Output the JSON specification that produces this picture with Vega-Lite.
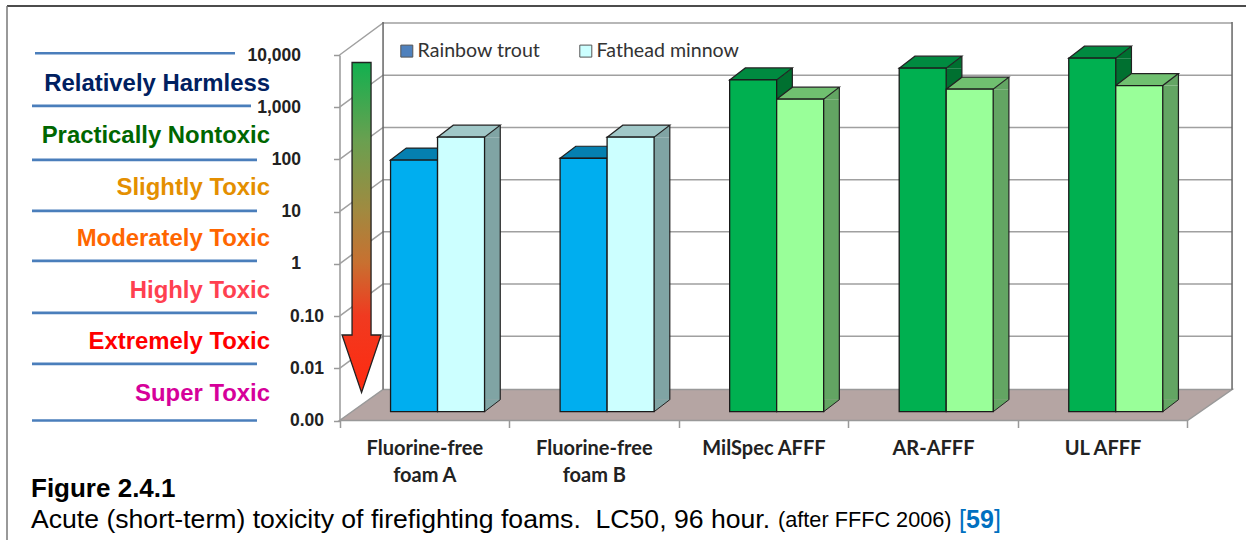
{"$schema":"https://vega.github.io/schema/vega-lite/v6.json","width":1239,"height":534,"autosize":"none","padding":{"left":7,"top":6,"right":0,"bottom":0},"background":"white","config":{"view":{"stroke":null}},
"datasets":{"bars":[
{"foam":"Fluorine-free foam A","series":"Rainbow trout","barKey":"Fluorine-free trout","lc50":66},
{"foam":"Fluorine-free foam A","series":"Fathead minnow","barKey":"Fluorine-free minnow","lc50":181},
{"foam":"Fluorine-free foam B","series":"Rainbow trout","barKey":"Fluorine-free trout","lc50":71.5},
{"foam":"Fluorine-free foam B","series":"Fathead minnow","barKey":"Fluorine-free minnow","lc50":181},
{"foam":"MilSpec AFFF","series":"Rainbow trout","barKey":"AFFF trout","lc50":2260},
{"foam":"MilSpec AFFF","series":"Fathead minnow","barKey":"AFFF minnow","lc50":966},
{"foam":"AR-AFFF","series":"Rainbow trout","barKey":"AFFF trout","lc50":3790},
{"foam":"AR-AFFF","series":"Fathead minnow","barKey":"AFFF minnow","lc50":1500},
{"foam":"UL AFFF","series":"Rainbow trout","barKey":"AFFF trout","lc50":5890},
{"foam":"UL AFFF","series":"Fathead minnow","barKey":"AFFF minnow","lc50":1760}],
"ticks":[{"v":10000},{"v":1000},{"v":100},{"v":10},{"v":1},{"v":0.1},{"v":0.01}],
"classes":[{"hazard":"Relatively Harmless","mid":2740},{"hazard":"Practically Nontoxic","mid":285},{"hazard":"Slightly Toxic","mid":28.6},{"hazard":"Moderately Toxic","mid":3},{"hazard":"Highly Toxic","mid":0.3},{"hazard":"Extremely Toxic","mid":0.0316},{"hazard":"Super Toxic","mid":0.00316}],
"series":[{"series":"Rainbow trout"},{"series":"Fathead minnow"}]},
"layer":[
{"data":{"values":[{"a":1}]},"mark":{"type":"rule","color":"#111","strokeWidth":1.5},"encoding":{"y":{"value":0}}},
{"data":{"values":[{"a":1}]},"mark":{"type":"rule","color":"#777","strokeWidth":1.5},"encoding":{"x":{"value":0}}},
{"data":{"values":[{"v":0.001}]},"mark":{"type":"point","shape":"M0,0L43.5,-31L892.5,-31L848,0Z","size":4,"filled":true,"fill":"#b5a5a3","stroke":"#999999","strokeWidth":1.5,"opacity":1},
"encoding":{"x":{"datum":"Fluorine-free foam A","type":"nominal","bandPosition":0,"scale":{"type":"band","domain":["labels","Fluorine-free foam A","Fluorine-free foam B","MilSpec AFFF","AR-AFFF","UL AFFF"],"range":[163,1180.3],"paddingInner":0,"paddingOuter":0},
"axis":{"title":null,"values":["Fluorine-free foam A","Fluorine-free foam B","MilSpec AFFF","AR-AFFF","UL AFFF"],"offset":-119.5,"domain":false,"tickBand":"extent","tickColor":"#999999","tickWidth":1.5,"tickSize":7,"labelAngle":0,"labelPadding":11,"labelFont":"Lato","labelFontWeight":"bold","labelFontSize":20,"labelColor":"#222222","labelLimit":300,"labelLineHeight":27,"labelExpr":"datum.label=='labels'?'':(indexof(datum.label,'Fluorine')==0?[slice(datum.label,0,13),slice(datum.label,14)]:datum.label)"}},
"y":{"field":"v","type":"quantitative","scale":{"type":"log","domain":[0.001,10000],"range":[414.5,49],"nice":false},
"axis":{"title":null,"offset":-332.5,"grid":false,"values":[10000,1000,100,10,1,0.1,0.01,0.001],"domainColor":"#999999","domainWidth":1.5,"tickColor":"#999999","tickWidth":1.5,"tickSize":6,"labelFont":"Liberation Sans","labelFontWeight":"bold","labelFontSize":17.5,"labelColor":"#222222","labelPadding":{"condition":{"test":"datum.value<1","value":10},"value":33},"labelExpr":"datum.value>=10000?'10,000':datum.value>=1000?'1,000':datum.value>=100?'100':datum.value>=10?'10':datum.value>=1?'1':datum.value>=0.1?'0.10':datum.value>=0.01?'0.01':'0.00'"}}}},
{"data":{"name":"ticks"},"mark":{"type":"point","shape":"M0,0L43.5,-32L892.5,-32","size":4,"filled":false,"stroke":"#a0a0a0","strokeWidth":1.5,"opacity":1},"encoding":{"x":{"datum":"Fluorine-free foam A","type":"nominal","bandPosition":0,"axis":null},"y":{"field":"v","type":"quantitative","axis":null}}},
{"data":{"values":[{"v":0.001}]},"mark":{"type":"point","shape":"M43.5,-31L43.5,-398.5M892.5,-31L892.5,-398.5","size":4,"filled":false,"stroke":"#666666","strokeWidth":1.5,"opacity":1},"encoding":{"x":{"datum":"Fluorine-free foam A","type":"nominal","bandPosition":0,"axis":null},"y":{"field":"v","type":"quantitative","axis":null}}},
{"data":{"values":[{"v":0.001}]},"mark":{"type":"point","shape":"M12.5,-358L31.5,-358L31.5,-85.5L41.5,-85.5L22,-28L2.5,-85.5L12.5,-85.5Z","size":4,"filled":true,"opacity":1,"stroke":"#222222","strokeWidth":1.3,"fill":{"gradient":"linear","x1":0,"y1":0,"x2":0,"y2":1,"stops":[{"offset":0,"color":"#12b04f"},{"offset":0.234,"color":"#69a050"},{"offset":0.446,"color":"#a08a40"},{"offset":0.607,"color":"#c87030"},{"offset":0.767,"color":"#f03a20"},{"offset":1,"color":"#ff2a10"}]}},"encoding":{"x":{"datum":"Fluorine-free foam A","type":"nominal","bandPosition":0,"axis":null},"y":{"field":"v","type":"quantitative","axis":null}}},

{"data":{"name":"bars"},"mark":{"type":"bar","width":15.7,"yOffset":-8.8,"y2Offset":-20.8},"encoding":{"x":{"field":"foam","type":"nominal","axis":null},"xOffset":{"field":"series","type":"nominal","sort":["Rainbow trout","Fathead minnow"],"scale":{"domain":["Rainbow trout","Fathead minnow"],"range":[82.35,176.35],"paddingInner":0,"paddingOuter":0}},"y":{"field":"lc50","type":"quantitative","stack":null,"axis":null},"y2":{"datum":0.001},"color":{"field":"barKey","type":"nominal","legend":null,"scale":{"domain":["Fluorine-free trout","Fluorine-free minnow","AFFF trout","AFFF minnow"],"range":["#0a6f9a","#80a4a4","#007030","#63a563"]}}}},
{"data":{"name":"bars"},"mark":{"type":"point","shape":"M39.2,-8.8L39.2,-20.8L23.5,-8.8Z","size":4,"filled":true,"opacity":1},"encoding":{"x":{"field":"foam","type":"nominal","axis":null},"xOffset":{"field":"series","type":"nominal","sort":["Rainbow trout","Fathead minnow"],"scale":{"domain":["Rainbow trout","Fathead minnow"],"range":[74.5,121.5],"paddingInner":0,"paddingOuter":0}},"y":{"field":"lc50","type":"quantitative","axis":null},"color":{"field":"barKey","type":"nominal","legend":null,"scale":{"domain":["Fluorine-free trout","Fluorine-free minnow","AFFF trout","AFFF minnow"],"range":["#0a6f9a","#80a4a4","#007030","#63a563"]}}}},
{"data":{"name":"bars"},"mark":{"type":"point","shape":"M23.5,-20.8L23.5,-8.8L39.2,-20.8","size":4,"filled":true,"opacity":1,"stroke":"#222222","strokeWidth":1},"encoding":{"x":{"field":"foam","type":"nominal","axis":null},"xOffset":{"field":"series","type":"nominal","sort":["Rainbow trout","Fathead minnow"],"scale":{"domain":["Rainbow trout","Fathead minnow"],"range":[74.5,121.5],"paddingInner":0,"paddingOuter":0}},"y":{"datum":0.001,"type":"quantitative","axis":null},"stroke":{"value":"#222222"},"color":{"field":"barKey","type":"nominal","legend":null,"scale":{"domain":["Fluorine-free trout","Fluorine-free minnow","AFFF trout","AFFF minnow"],"range":["#0a6f9a","#80a4a4","#007030","#63a563"]}}}},
{"data":{"name":"bars"},"mark":{"type":"rule","color":"#222222","strokeWidth":1.2,"yOffset":-20.8,"y2Offset":-20.8},"encoding":{"x":{"field":"foam","type":"nominal","axis":null},"xOffset":{"field":"series","type":"nominal","sort":["Rainbow trout","Fathead minnow"],"scale":{"domain":["Rainbow trout","Fathead minnow"],"range":[90.2,184.2],"paddingInner":0,"paddingOuter":0}},"y":{"field":"lc50","type":"quantitative","axis":null},"y2":{"datum":0.001}}},
{"data":{"name":"bars"},"mark":{"type":"point","shape":"M-23.5,-8.8L-7.8,-20.8L39.2,-20.8L23.5,-8.8Z","size":4,"filled":true,"opacity":1,"stroke":"#222222","strokeWidth":1.2},"encoding":{"x":{"field":"foam","type":"nominal","axis":null},"xOffset":{"field":"series","type":"nominal","sort":["Rainbow trout","Fathead minnow"],"scale":{"domain":["Rainbow trout","Fathead minnow"],"range":[74.5,121.5],"paddingInner":0,"paddingOuter":0}},"y":{"field":"lc50","type":"quantitative","axis":null},"stroke":{"value":"#222222"},"color":{"field":"barKey","type":"nominal","legend":null,"scale":{"domain":["Fluorine-free trout","Fluorine-free minnow","AFFF trout","AFFF minnow"],"range":["#0580b0","#a0c8c8","#008a40","#70c070"]}}}},
{"data":{"name":"bars"},"mark":{"type":"bar","width":47,"yOffset":-8.8,"y2Offset":-8.8,"stroke":"#1a1a1a","strokeWidth":1.3},"encoding":{"x":{"field":"foam","type":"nominal","axis":null},"xOffset":{"field":"series","type":"nominal","sort":["Rainbow trout","Fathead minnow"],"scale":{"domain":["Rainbow trout","Fathead minnow"],"range":[51,145],"paddingInner":0,"paddingOuter":0}},"y":{"field":"lc50","type":"quantitative","stack":null,"axis":null},"y2":{"datum":0.001},"color":{"field":"barKey","type":"nominal","legend":null,"scale":{"domain":["Fluorine-free trout","Fluorine-free minnow","AFFF trout","AFFF minnow"],"range":["#00aeef","#ccffff","#00b050","#99ff99"]}}}},

{"data":{"values":[{"v":10800}]},"mark":{"type":"point","shape":"M-135,0L65,0","size":4,"filled":false,"stroke":"#4a7ebb","strokeWidth":2.7,"opacity":1},"encoding":{"x":{"datum":"labels","type":"nominal","bandPosition":0,"axis":null},"y":{"field":"v","type":"quantitative","axis":null}}},
{"data":{"values":[{"v":1060}]},"mark":{"type":"point","shape":"M-138,0L81,0","size":4,"filled":false,"stroke":"#4a7ebb","strokeWidth":2.7,"opacity":1},"encoding":{"x":{"datum":"labels","type":"nominal","bandPosition":0,"axis":null},"y":{"field":"v","type":"quantitative","axis":null}}},
{"data":{"values":[{"v":98},{"v":10.3},{"v":1.14},{"v":0.115},{"v":0.0122},{"v":0.001}]},"mark":{"type":"point","shape":"M-138,0L87,0","size":4,"filled":false,"stroke":"#4a7ebb","strokeWidth":2.7,"opacity":1},"encoding":{"x":{"datum":"labels","type":"nominal","bandPosition":0,"axis":null},"y":{"field":"v","type":"quantitative","axis":null}}},
{"data":{"name":"classes"},"mark":{"type":"text","align":"right","baseline":"middle","font":"Liberation Sans","fontWeight":"bold","fontSize":23.9},"encoding":{"x":{"datum":"labels","type":"nominal","bandPosition":0.59,"axis":null},"y":{"field":"mid","type":"quantitative","axis":null},"text":{"field":"hazard"},"color":{"field":"hazard","type":"nominal","legend":null,"scale":{"domain":["Relatively Harmless","Practically Nontoxic","Slightly Toxic","Moderately Toxic","Highly Toxic","Extremely Toxic","Super Toxic"],"range":["#002060","#006600","#e48f00","#ff6600","#ff4050","#ff0000","#d6009a"]}}}},

{"data":{"name":"series"},"mark":{"type":"point","size":0,"filled":true,"opacity":1},"encoding":{"fill":{"field":"series","type":"nominal","scale":{"domain":["Rainbow trout","Fathead minnow"],"range":["#4f81bd","#ccffff"]},"legend":{"orient":"none","legendX":390,"legendY":35,"direction":"horizontal","title":null,"symbolType":"square","symbolSize":144,"symbolStrokeColor":"#555555","symbolStrokeWidth":1,"symbolOpacity":1,"labelFont":"Lato","labelFontSize":19.6,"labelColor":"#333333","labelOffset":1,"columnPadding":35,"labelLimit":300}}}},

{"data":{"values":[{"t":"Figure 2.4.1"}]},"mark":{"type":"text","align":"left","baseline":"alphabetic","font":"Liberation Sans","fontWeight":"bold","fontSize":26,"color":"#000"},"encoding":{"x":{"value":24},"y":{"value":491},"text":{"field":"t"}}},
{"data":{"values":[{"t":"Acute (short-term) toxicity of firefighting foams.\u00a0\u00a0LC50, 96 hour."}]},"mark":{"type":"text","align":"left","baseline":"alphabetic","font":"Liberation Sans","fontSize":26.6,"color":"#000"},"encoding":{"x":{"value":24},"y":{"value":522},"text":{"field":"t"}}},
{"data":{"values":[{"t":"(after FFFC 2006)"}]},"mark":{"type":"text","align":"left","baseline":"alphabetic","font":"Liberation Sans","fontSize":21.7,"color":"#000"},"encoding":{"x":{"value":771},"y":{"value":521},"text":{"field":"t"}}},
{"data":{"values":[{"t":"["}]},"mark":{"type":"text","align":"left","baseline":"alphabetic","font":"Liberation Sans","fontSize":25,"color":"#0070c0"},"encoding":{"x":{"value":952},"y":{"value":522},"text":{"field":"t"}}},
{"data":{"values":[{"t":"]"}]},"mark":{"type":"text","align":"left","baseline":"alphabetic","font":"Liberation Sans","fontSize":25,"color":"#0070c0"},"encoding":{"x":{"value":987},"y":{"value":522},"text":{"field":"t"}}},
{"data":{"values":[{"t":"59"}]},"mark":{"type":"text","align":"left","baseline":"alphabetic","font":"Liberation Sans","fontWeight":"bold","fontSize":25,"color":"#0070c0"},"encoding":{"x":{"value":959},"y":{"value":522},"text":{"field":"t"}}}
],
"resolve":{"scale":{"color":"independent","xOffset":"independent"},"axis":{"x":"independent","y":"independent"}}}
